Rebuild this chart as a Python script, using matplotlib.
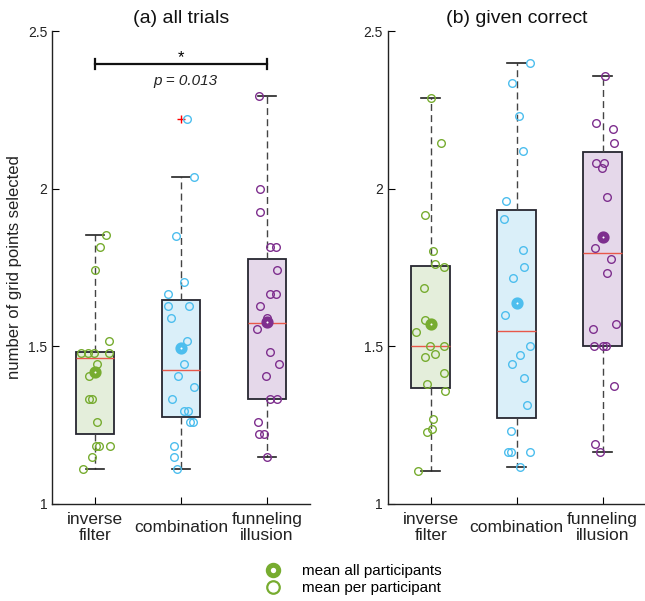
import numpy as np
import matplotlib.pyplot as plt
from matplotlib.lines import Line2D

plt.rcParams['font.family'] = ['Liberation Sans', 'DejaVu Sans']

categories = ['inverse\nfilter', 'combination', 'funneling\nillusion']
colors = ['#77ac30', '#4dbeee', '#7e2f8e']
fills = ['#e4eedb', '#daeff9', '#e5d8ea']

# ---- (a) all trials: per participant means + jitter offsets
a_vals = [
    [1.852, 1.816, 1.741, 1.518, 1.48, 1.48, 1.48, 1.48, 1.444, 1.406,
     1.332, 1.332, 1.259, 1.185, 1.185, 1.185, 1.148, 1.110],
    [2.222, 2.037, 1.851, 1.704, 1.666, 1.629, 1.629, 1.591, 1.518, 1.444,
     1.406, 1.370, 1.332, 1.295, 1.295, 1.259, 1.259, 1.185, 1.148, 1.110],
    [2.295, 2.0, 1.925, 1.816, 1.816, 1.741, 1.666, 1.666, 1.629, 1.589,
     1.555, 1.482, 1.444, 1.406, 1.332, 1.332, 1.259, 1.222, 1.222, 1.148],
]
a_jit = [
    [0.13, 0.06, 0.0, 0.16, -0.16, -0.08, -0.01, 0.16, 0.02, -0.07,
     -0.07, -0.035, 0.02, 0.01, 0.05, 0.17, -0.035, -0.14],
    [0.07, 0.15, -0.06, 0.03, -0.15, -0.155, 0.09, -0.12, 0.07, 0.03,
     -0.04, 0.15, -0.10, 0.03, 0.08, 0.10, 0.135, -0.08, -0.085, -0.05],
    [-0.09, -0.08, -0.085, 0.035, 0.11, 0.12, 0.04, 0.10, -0.085, 0.0,
     -0.12, 0.04, 0.14, -0.01, 0.04, 0.12, -0.10, -0.09, -0.03, 0.0],
]
a_mean = [1.419, 1.496, 1.576]
# box stats: q1, median, q3, lower whisker, upper whisker, outliers
a_q1 = [1.222, 1.277, 1.332]
a_med = [1.4625, 1.424, 1.574]
a_q3 = [1.4816, 1.6476, 1.777]
a_lo = [1.110, 1.110, 1.148]
a_hi = [1.852, 2.037, 2.295]
a_out = [[], [2.222], []]

# ---- (b) given correct
b_vals = [
    [2.286, 2.145, 1.915, 1.801, 1.762, 1.751, 1.685, 1.584, 1.547, 1.5,
     1.5, 1.476, 1.467, 1.417, 1.380, 1.358, 1.269, 1.237, 1.228, 1.104],
    [2.397, 2.334, 2.232, 2.120, 1.962, 1.905, 1.806, 1.751, 1.716, 1.599,
     1.5, 1.471, 1.443, 1.400, 1.314, 1.233, 1.165, 1.165, 1.165, 1.118],
    [2.357, 2.207, 2.189, 2.145, 2.081, 2.081, 2.067, 1.975, 1.813, 1.778,
     1.732, 1.571, 1.555, 1.5, 1.5, 1.5, 1.375, 1.190, 1.165],
]
b_jit = [
    [0.0, 0.12, -0.06, 0.03, 0.05, 0.16, -0.08, -0.07, -0.17, -0.01,
     0.15, 0.05, -0.07, 0.15, -0.04, 0.17, 0.03, 0.01, -0.04, -0.15],
    [0.15, -0.05, 0.03, 0.07, -0.12, -0.15, 0.07, 0.085, -0.04, -0.14,
     0.15, 0.04, -0.05, 0.08, 0.12, -0.07, -0.10, -0.07, 0.15, 0.04],
    [0.03, -0.08, 0.12, 0.13, -0.08, 0.015, -0.01, 0.05, -0.085, 0.10,
     0.05, 0.16, -0.115, -0.10, 0.0, 0.04, 0.13, -0.09, -0.035],
]
b_mean = [1.571, 1.639, 1.846]
b_q1 = [1.369, 1.274, 1.5]
b_med = [1.5, 1.549, 1.796]
b_q3 = [1.7556, 1.933, 2.115]
b_lo = [1.104, 1.118, 1.165]
b_hi = [2.286, 2.397, 2.357]
b_out = [[], [], []]

p_text = 'p = 0.013'


def draw_panel(ax, vals, jit, means, q1, med, q3, lo, hi, out, title):
    stats = []
    for i in range(3):
        stats.append(dict(q1=q1[i], med=med[i], q3=q3[i],
                          whislo=lo[i], whishi=hi[i], fliers=out[i]))
    pos = np.arange(1, 4)
    bp = ax.bxp(stats, positions=pos, widths=0.45, patch_artist=True,
                showfliers=True,
                boxprops=dict(edgecolor='#262630', linewidth=1.3),
                medianprops=dict(color='#e8584a', linewidth=1.0),
                whiskerprops=dict(color='#444444', linestyle=(0, (5, 3)), linewidth=1.0),
                capprops=dict(color='#222222', linewidth=1.2),
                capwidths=0.22,
                flierprops=dict(marker='+', markeredgecolor='red', markersize=6,
                                markeredgewidth=1.0, linestyle='none'))
    for patch, fc in zip(bp['boxes'], fills):
        patch.set_facecolor(fc)
        patch.set_zorder(1)

    for i in range(3):
        x = pos[i] + np.array(jit[i])
        ax.plot(x, vals[i], linestyle='none', marker='o', markersize=5.5,
                markerfacecolor='none', markeredgecolor=colors[i],
                markeredgewidth=1.0, zorder=4)
        ax.plot(pos[i], means[i], linestyle='none', marker='o', markersize=5.2,
                markerfacecolor='white', markeredgecolor=colors[i],
                markeredgewidth=3.6, zorder=5)

    ax.set_xlim(0.5, 3.5)
    ax.set_ylim(1, 2.5)
    ax.set_yticks([1, 1.5, 2, 2.5])
    ax.set_yticklabels(['1', '1.5', '2', '2.5'])
    ax.set_xticks(pos)
    ax.set_xticklabels(categories, fontsize=12.5, color='#222222')
    for lab in ax.get_xticklabels():
        lab.set_va('center')
        lab.set_linespacing(1.05)
    ax.tick_params(axis='x', direction='in', length=5, pad=17)
    ax.tick_params(axis='y', direction='in', length=5, labelsize=10,
                   labelcolor='#222222', pad=3.5)
    ax.spines['top'].set_visible(False)
    ax.spines['right'].set_visible(False)
    for s in ['left', 'bottom']:
        ax.spines[s].set_linewidth(1.0)
        ax.spines[s].set_color('#222222')
    ax.set_title(title, fontsize=14, color='#111111', pad=6)


fig = plt.figure(figsize=(6.45, 6.01), dpi=100)
ax1 = fig.add_axes([0.0806, 0.1614, 0.40, 0.787])
ax2 = fig.add_axes([0.601, 0.1614, 0.40, 0.787])

draw_panel(ax1, a_vals, a_jit, a_mean, a_q1, a_med, a_q3, a_lo, a_hi, a_out,
           '(a) all trials')
draw_panel(ax2, b_vals, b_jit, b_mean, b_q1, b_med, b_q3, b_lo, b_hi, b_out,
           '(b) given correct')

ax1.set_ylabel('number of grid points selected', fontsize=12, color='#222222',
               labelpad=4.5)

# significance bracket between inverse filter and funneling illusion
ax1.plot([1, 3], [2.396, 2.396], color='#111111', linewidth=1.6)
ax1.plot([1, 1], [2.381, 2.411], color='#111111', linewidth=1.6)
ax1.plot([3, 3], [2.381, 2.411], color='#111111', linewidth=1.6)
ax1.text(2.0, 2.392, '*', ha='center', va='bottom', fontsize=12)
ax1.text(2.05, 2.342, p_text, ha='center', va='center', fontsize=11,
         style='italic', color='#222222')

handles = [
    Line2D([], [], linestyle='none', marker='o', markersize=7.5,
           markerfacecolor='white', markeredgecolor=colors[0], markeredgewidth=3.6),
    Line2D([], [], linestyle='none', marker='o', markersize=9,
           markerfacecolor='none', markeredgecolor=colors[0], markeredgewidth=1.6),
]
fig.legend(handles, ['mean all participants', 'mean per participant'],
           loc='center', bbox_to_anchor=(0.545, 0.035), frameon=False,
           fontsize=11, handletextpad=1.1, labelspacing=0.2,
           handlelength=1.5)

fig.savefig('out.png', dpi=100, facecolor='white')
